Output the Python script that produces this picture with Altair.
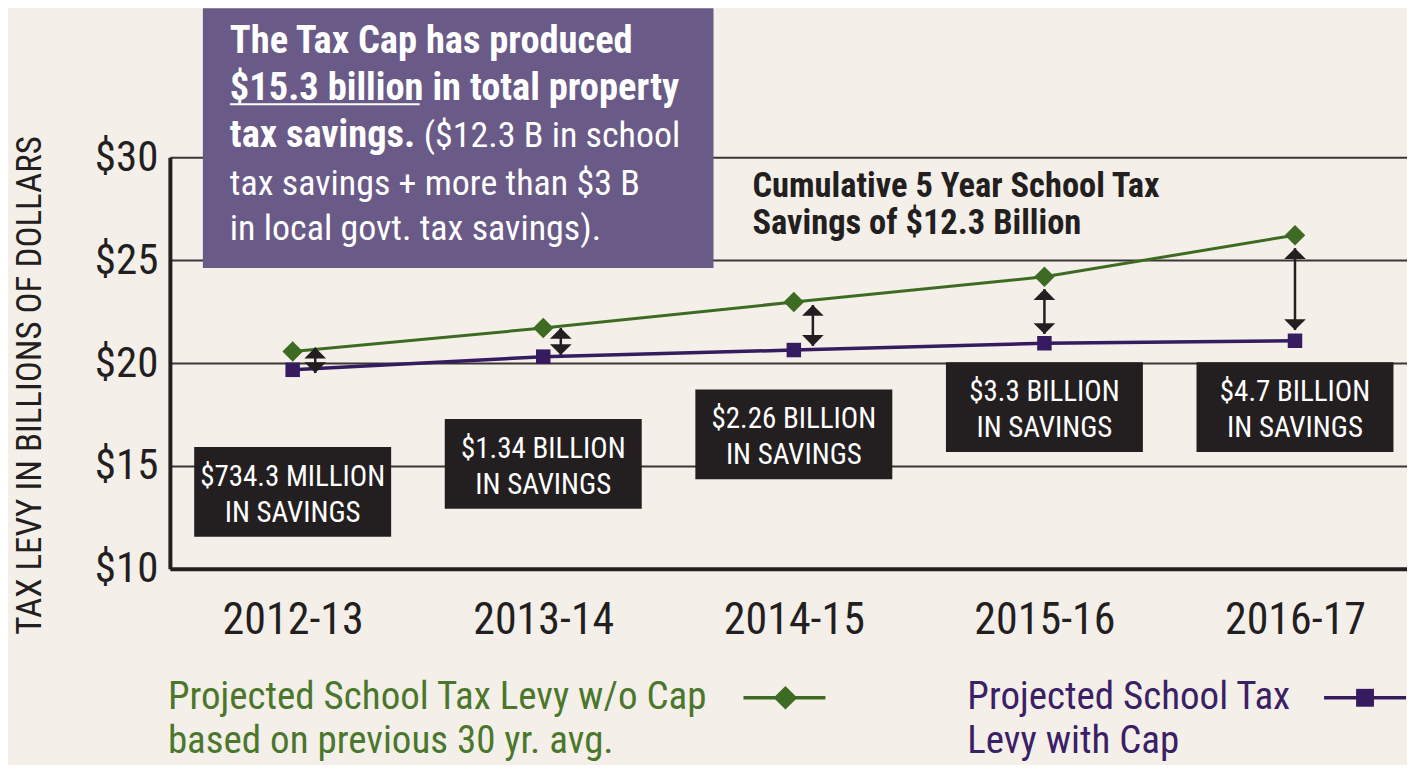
import json
import altair as alt
import pandas as pd

# ---------------- data ----------------
years = ["2012-13", "2013-14", "2014-15", "2015-16", "2016-17"]
levy_without_cap = [20.56, 21.70, 22.96, 24.19, 26.21]
levy_with_cap = [19.67, 20.31, 20.63, 20.96, 21.08]
savings_labels = [
    "$734.3 MILLION\nIN SAVINGS",
    "$1.34 BILLION\nIN SAVINGS",
    "$2.26 BILLION\nIN SAVINGS",
    "$3.3 BILLION\nIN SAVINGS",
    "$4.7 BILLION\nIN SAVINGS",
]
arrow_top = [20.75, 21.70, 22.82, 23.59, 25.58]
arrow_bottom = [19.51, 20.39, 20.83, 21.41, 21.60]
y_ticks = [10, 15, 20, 25, 30]

# ---------------- layout / style constants ----------------
arrow_dx = [0.09, 0.07, 0.076, 0.0, 0.0]
label_box_y = [13.74, 15.10, 16.53, 17.86, 17.86]
BOX_HALF_W = 0.393
BOX_HALF_H = 2.18

BG = "#f4efe9"
INK = "#231f20"
GREEN = "#3e6b23"
PURPLE = "#361b60"
LEG_GREEN = "#4b772c"
LEG_PURPLE = "#3a2064"
BOX_PURPLE = "#6a5a87"
FONT = "Liberation Sans Narrow, Arial Narrow, Roboto Condensed, DejaVu Sans Condensed, Liberation Sans, sans-serif"

idx = list(range(len(years)))
df = pd.DataFrame({
    "i": idx,
    "year": years,
    "nocap": levy_without_cap,
    "cap": levy_with_cap,
    "ax": [i + d for i, d in zip(idx, arrow_dx)],
    "atop": arrow_top,
    "abot": arrow_bottom,
    "label": savings_labels,
    "cy": label_box_y,
})
df["bx1"] = df["i"] - BOX_HALF_W
df["bx2"] = df["i"] + BOX_HALF_W
df["by1"] = df["cy"] - BOX_HALF_H
df["by2"] = df["cy"] + BOX_HALF_H

one = pd.DataFrame({"k": [0]})

x_axis = alt.Axis(
    values=idx, labelExpr=f"{json.dumps(years)}[datum.value]", title=None,
    grid=False, ticks=False, domain=True, domainColor=INK, domainWidth=4,
    labelFontSize=44, labelFont=FONT, labelColor=INK, labelPadding=30,
    labelFlush=False, labelOverlap=False,
)
y_axis = alt.Axis(
    values=y_ticks, labelExpr="'$' + datum.value", title="TAX LEVY IN BILLIONS OF DOLLARS",
    grid=True, gridColor="#3a3636", gridWidth=2, ticks=False, domain=True,
    domainColor=INK, domainWidth=4, labelFontSize=43, labelFont=FONT, labelColor=INK,
    labelPadding=12, labelFlush=False, labelOverlap=False,
    titleFont=FONT, titleFontSize=35, titleFontWeight="normal", titleColor=INK,
    titleAngle=270, titleX=-140, titleY=228, titleAlign="center", titleBaseline="middle",
)
X = alt.X("i:Q", scale=alt.Scale(domain=[-0.49, 4.447], nice=False, zero=False), axis=x_axis)
Y = alt.Y("nocap:Q", scale=alt.Scale(domain=[10, 30], nice=False, zero=False), axis=y_axis)

base = alt.Chart(df)

green_line = base.mark_line(color=GREEN, strokeWidth=3).encode(x=X, y=Y)
green_pts = base.mark_point(shape="diamond", filled=True, size=420, color=GREEN, opacity=1).encode(x="i:Q", y="nocap:Q")
purple_line = base.mark_line(color=PURPLE, strokeWidth=3.5).encode(x="i:Q", y="cap:Q")
purple_pts = base.mark_point(shape="square", filled=True, size=210, color=PURPLE, opacity=1).encode(x="i:Q", y="cap:Q")

arrow_shaft = base.mark_rule(color=INK, strokeWidth=2.5).encode(x="ax:Q", y="atop:Q", y2="abot:Q")
arrow_up = base.mark_point(shape="M0,0L1,1L-1,1Z", filled=True, size=470, color=INK, opacity=1).encode(x="ax:Q", y="atop:Q")
arrow_down = base.mark_point(shape="M0,0L1,-1L-1,-1Z", filled=True, size=470, color=INK, opacity=1).encode(x="ax:Q", y="abot:Q")

boxes = base.mark_rect(color=INK).encode(x="bx1:Q", x2="bx2:Q", y="by1:Q", y2="by2:Q")
box_text = base.mark_text(
    lineBreak="\n", lineHeight=36, baseline="middle", align="center", dy=-15,
    fontSize=29, font=FONT, color="white",
).encode(x="i:Q", y="cy:Q", text="label:N")


def txt(s, x, y, size, color, weight="normal", align="left"):
    return alt.Chart(one).mark_text(
        text=s, fontSize=size, font=FONT, color=color, fontWeight=weight,
        align=align, baseline="alphabetic",
    ).encode(x=alt.value(x), y=alt.value(y))


# purple call-out box
callout = alt.Chart(one).mark_rect(color=BOX_PURPLE).encode(
    x=alt.value(33), x2=alt.value(544), y=alt.value(-149), y2=alt.value(111))
callout_texts = [
    txt("The Tax Cap has produced", 60, -104, 38.5, "white", "bold"),
    txt("$15.3 billion in total property", 60, -57, 38.5, "white", "bold"),
    txt("tax savings.", 60, -10, 38.5, "white", "bold"),
    txt("($12.3 B in school", 254, -10, 36, "white"),
    txt("tax savings + more than $3 B", 60, 38, 36, "white"),
    txt("in local govt. tax savings).", 60, 83, 36, "white"),
]
underline = alt.Chart(one).mark_rule(color="white", strokeWidth=2).encode(
    x=alt.value(60), x2=alt.value(250), y=alt.value(-53))

title_texts = [
    txt("Cumulative 5 Year School Tax", 583, 40, 34.5, INK, "bold"),
    txt("Savings of $12.3 Billion", 583, 77, 34.5, INK, "bold"),
]

# custom legend
legend_parts = [
    txt("Projected School Tax Levy w/o Cap", -2, 552, 39, LEG_GREEN),
    txt("based on previous 30 yr. avg.", -2, 596, 39, LEG_GREEN),
    txt("Projected School Tax", 798, 552, 39, LEG_PURPLE),
    txt("Levy with Cap", 798, 596, 39, LEG_PURPLE),
    alt.Chart(one).mark_rule(color=GREEN, strokeWidth=3.5).encode(
        x=alt.value(574), x2=alt.value(656), y=alt.value(541)),
    alt.Chart(one).mark_point(shape="diamond", filled=True, size=560, color=GREEN, opacity=1).encode(
        x=alt.value(616), y=alt.value(541)),
    alt.Chart(one).mark_rule(color=PURPLE, strokeWidth=3.5).encode(
        x=alt.value(1155), x2=alt.value(1237), y=alt.value(541)),
    alt.Chart(one).mark_point(shape="square", filled=True, size=320, color=PURPLE, opacity=1).encode(
        x=alt.value(1196), y=alt.value(541)),
]

chart = alt.layer(
    green_line, purple_line, green_pts, purple_pts,
    arrow_shaft, arrow_up, arrow_down,
    boxes, box_text,
    callout, *callout_texts, underline,
    *title_texts,
    *legend_parts,
).properties(
    width=1238, height=412,
    autosize=alt.AutoSizeParams(type="none"),
    padding={"left": 162, "top": 149, "right": 0, "bottom": 196},
    background=BG,
).configure_view(stroke=None)

chart.save("out.html", embed_options={"renderer": "svg", "actions": False})
